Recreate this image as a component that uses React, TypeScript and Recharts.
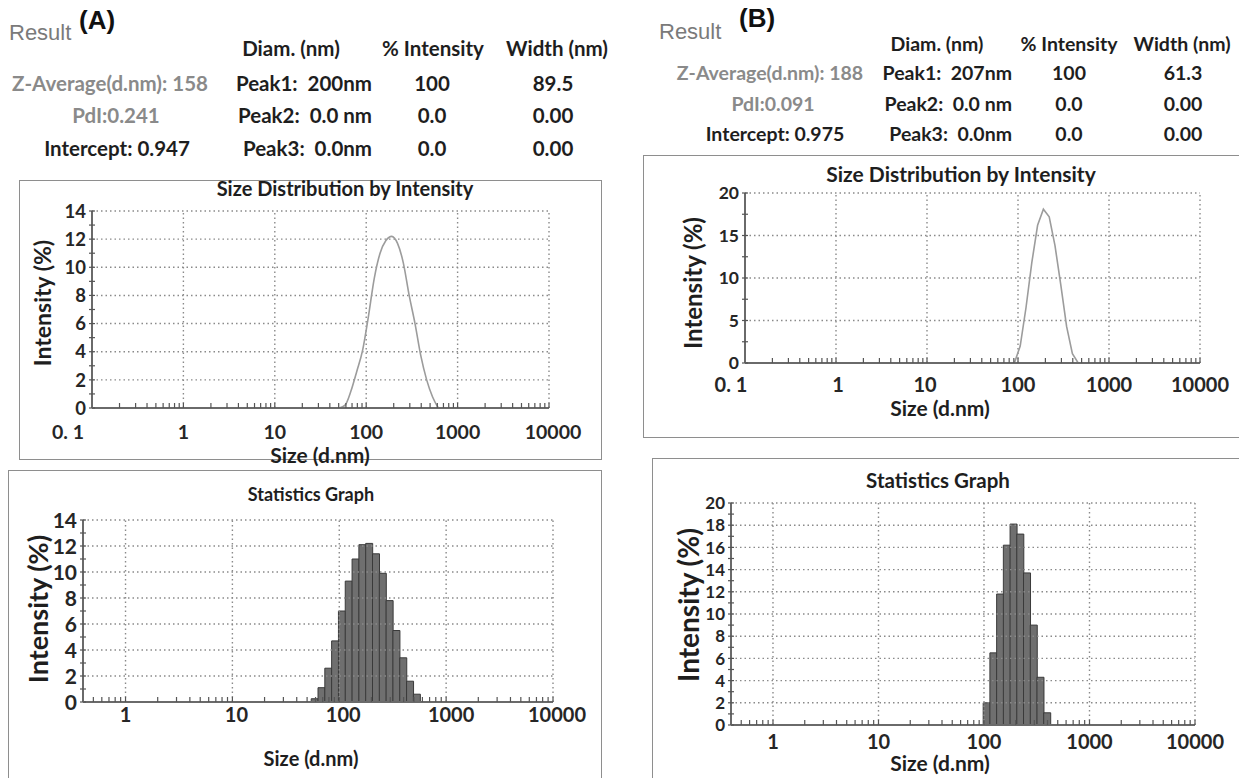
import React from 'react';
import { ComposedChart, Line, Bar, XAxis, YAxis, ReferenceLine } from 'recharts';

// ---------------- data ----------------
const curveSizesA = [50.75, 58.77, 68.06, 78.82, 91.28, 105.7, 122.4, 141.8, 164.2, 190.1, 220.2, 255.0, 295.3, 342.0, 396.1, 458.7, 531.2, 615.1];
const curveIntensityA = [0, 0.2, 1.2, 2.6, 4.1, 6.5, 9.2, 11.0, 11.9, 12.2, 11.7, 10.3, 8.0, 6.0, 3.7, 2.0, 0.8, 0];

const histSizesA = [58.77, 68.06, 78.82, 91.28, 105.7, 122.4, 141.8, 164.2, 190.1, 220.2, 255.0, 295.3, 342.0, 396.1, 458.7, 531.2];
const histIntensityA = [0.25, 1.1, 2.6, 4.7, 7.0, 9.3, 11.0, 12.1, 12.2, 11.4, 9.9, 7.8, 5.5, 3.4, 1.6, 0.6];

const curveSizesB = [91.28, 105.7, 122.4, 141.8, 164.2, 190.1, 220.2, 255.0, 295.3, 342.0, 396.1, 458.7];
const curveIntensityB = [0, 2.0, 6.5, 11.8, 16.2, 18.1, 17.2, 13.8, 9.2, 4.3, 1.1, 0];

const histSizesB = [105.7, 122.4, 141.8, 164.2, 190.1, 220.2, 255.0, 295.3, 342.0, 396.1];
const histIntensityB = [2.0, 6.5, 11.8, 16.2, 18.1, 17.2, 13.7, 9.0, 4.3, 1.1];

const xMajorTop = [0.1, 1, 10, 100, 1000, 10000];
const xLabelsTop = ['0. 1', '1', '10', '100', '1000', '10000'];
const xMajorStat = [1, 10, 100, 1000, 10000];
const xLabelsStat = ['1', '10', '100', '1000', '10000'];
const xMinorTicks = [
  0.2, 0.3, 0.4, 0.5, 0.6, 0.7, 0.8, 0.9,
  2, 3, 4, 5, 6, 7, 8, 9,
  20, 30, 40, 50, 60, 70, 80, 90,
  200, 300, 400, 500, 600, 700, 800, 900,
  2000, 3000, 4000, 5000, 6000, 7000, 8000, 9000,
];

const yMajorA = [0, 2, 4, 6, 8, 10, 12, 14];
const yMinorA = [1, 3, 5, 7, 9, 11, 13];
const yMajorBTop = [0, 5, 10, 15, 20];
const yMinorBTop = [2.5, 7.5, 12.5, 17.5];
const yMajorBStat = [0, 2, 4, 6, 8, 10, 12, 14, 16, 18, 20];
const yMinorBStat = [1, 3, 5, 7, 9, 11, 13, 15, 17, 19];

const tableHeaders = ['Diam. (nm)', '% Intensity', 'Width (nm)'];
const summaryA = ['Z-Average(d.nm): 158', 'PdI:0.241', 'Intercept: 0.947'];
const peakNamesA = ['Peak1:  200nm', 'Peak2:  0.0 nm', 'Peak3:  0.0nm'];
const peakIntensityA = ['100', '0.0', '0.0'];
const peakWidthA = ['89.5', '0.00', '0.00'];
const summaryB = ['Z-Average(d.nm): 188', 'PdI:0.091', 'Intercept: 0.975'];
const peakNamesB = ['Peak1:  207nm', 'Peak2:  0.0 nm', 'Peak3:  0.0nm'];
const peakIntensityB = ['100', '0.0', '0.0'];
const peakWidthB = ['61.3', '0.00', '0.00'];
const summaryColors = ['#8a8a8a', '#8a8a8a', '#1e1e1e'];

// ---------------- helpers ----------------
const FONT = 'Lato, "Open Sans", sans-serif';
const ARIAL = '"Liberation Sans", Arial, sans-serif';

type TxtProps = {
  x: number; y: number; children: React.ReactNode; size: number; color?: string;
  weight?: number; anchor?: 'start' | 'middle' | 'end'; family?: string; rotate?: number;
};
const Txt = ({ x, y, children, size, color = '#1e1e1e', weight = 700, anchor = 'middle', family = FONT, rotate = 0 }: TxtProps) => {
  const tx = anchor === 'start' ? '0' : anchor === 'end' ? '-100%' : '-50%';
  return (
    <div
      style={{
        position: 'absolute', left: x, top: y, transform: `translate(${tx}, -50%) rotate(${rotate}deg)`,
        fontFamily: family, fontSize: size, fontWeight: weight, color, whiteSpace: 'pre', lineHeight: 1,
      }}
    >
      {children}
    </div>
  );
};

type Rect = { x: number; y: number; w: number; h: number };
const YAXIS_W = 50;
const XAXIS_H = 40;

type PlotProps = {
  box: Rect; plot: Rect; xMin: number; xMajor: number[]; xLabels: string[]; xDx: number[];
  yMax: number; yMajor: number[]; yMinor: number[];
  sizes: number[]; values: number[]; kind: 'line' | 'bar'; lineType?: 'monotone' | 'linear';
  xFont: number; yFont: number; xDy: number;
};

const Plot = (p: PlotProps) => {
  const data = p.sizes.map((s, i) => ({ size: s, intensity: p.values[i] }));
  const xLabelIdx = new Map<number, number>(p.xMajor.map((v, i) => [v, i]));
  const xTicks = [...p.xMajor, ...xMinorTicks.filter((v) => v > p.xMin)].sort((a, b) => a - b);
  const yTicks = [...p.yMajor, ...p.yMinor].sort((a, b) => a - b);
  const yMajorSet = new Set(p.yMajor);
  const margin = {
    top: p.plot.y - p.box.y,
    left: p.plot.x - p.box.x - YAXIS_W,
    right: p.box.x + p.box.w - p.plot.x - p.plot.w,
    bottom: p.box.y + p.box.h - p.plot.y - p.plot.h - XAXIS_H,
  };
  const renderXTick = (props: any) => {
    const { x, y, payload } = props;
    const idx = xLabelIdx.get(payload.value);
    if (idx === undefined) return <g />;
    return (
      <text x={x + p.xDx[idx]} y={y + p.xDy} textAnchor="middle" fontFamily={FONT} fontWeight={700} fontSize={p.xFont} fill="#262626">
        {p.xLabels[idx]}
      </text>
    );
  };
  const renderYTick = (props: any) => {
    const { x, y, payload } = props;
    if (!yMajorSet.has(payload.value)) return <g />;
    return (
      <text x={x + 2} y={y + p.yFont * 0.36} textAnchor="end" fontFamily={FONT} fontWeight={700} fontSize={p.yFont} fill="#262626">
        {String(payload.value)}
      </text>
    );
  };
  return (
    <div style={{ position: 'absolute', left: p.box.x, top: p.box.y }}>
      <ComposedChart width={p.box.w} height={p.box.h} data={data} margin={margin} barCategoryGap={0} barGap={0}>
        <XAxis
          dataKey="size" type="number" scale="log" domain={[p.xMin, 10000]} ticks={xTicks} interval={0}
          allowDataOverflow height={XAXIS_H} tick={renderXTick} tickSize={5}
          tickLine={{ stroke: '#555', strokeWidth: 1.2, transform: 'translate(0,-5)' }}
          axisLine={{ stroke: '#6a6a6a', strokeWidth: 2 }}
        />
        <YAxis
          type="number" domain={[0, p.yMax]} ticks={yTicks} interval={0} width={YAXIS_W} allowDataOverflow
          tick={renderYTick} tickSize={6}
          tickLine={{ stroke: '#555', strokeWidth: 1.2, transform: 'translate(3,0)' }}
          axisLine={{ stroke: '#6a6a6a', strokeWidth: 2 }}
        />
        {p.xMajor.filter((v) => v > p.xMin).map((v) => (
          <ReferenceLine key={'gx' + v} x={v} stroke="#8a8a8a" strokeWidth={1.4} strokeDasharray="1.5 3" />
        ))}
        {p.yMajor.filter((v) => v > 0).map((v) => (
          <ReferenceLine key={'gy' + v} y={v} stroke="#8a8a8a" strokeWidth={1.4} strokeDasharray="1.5 3" />
        ))}
        {p.kind === 'bar' ? (
          <Bar dataKey="intensity" fill="#6f6f6f" stroke="#3a3a3a" strokeWidth={1} isAnimationActive={false} />
        ) : (
          <Line dataKey="intensity" type={p.lineType || 'monotone'} stroke="#9c9c9c" strokeWidth={1.6} dot={false} isAnimationActive={false} />
        )}
      </ComposedChart>
    </div>
  );
};

const Box = ({ r }: { r: Rect }) => (
  <div style={{ position: 'absolute', left: r.x, top: r.y, width: r.w, height: r.h, border: '1.5px solid #8e8e8e', boxSizing: 'border-box' }} />
);

// ---------------- layout ----------------
const boxATop = { x: 19, y: 180, w: 583, h: 280 };
const plotATop = { x: 92, y: 211, w: 457, h: 197 };
const boxAStat = { x: 8, y: 470, w: 594, h: 340 };
const plotAStat = { x: 83, y: 520, w: 470, h: 182 };
const boxBTop = { x: 643, y: 155, w: 620, h: 283 };
const plotBTop = { x: 745, y: 193, w: 455, h: 170 };
const boxBStat = { x: 652, y: 458, w: 620, h: 340 };
const plotBStat = { x: 731, y: 503, w: 464, h: 222 };

const rowYA = [83, 115, 148];
const rowYB = [73, 104, 134];

export default function App() {
  return (
    <div style={{ position: 'absolute', left: 0, top: 0, width: 1239, height: 778, overflow: 'hidden', background: '#fff' }}>
      {/* ---------- Panel A header ---------- */}
      <Txt x={9} y={33} size={22} color="#7a7a7a" weight={400} anchor="start" family={ARIAL}>Result</Txt>
      <Txt x={79} y={20} size={26} color="#111" weight={700} anchor="start" family={ARIAL}>(A)</Txt>
      {tableHeaders.map((h, i) => (
        <Txt key={'ha' + i} x={[291, 433, 557][i]} y={48} size={20.5}>{h}</Txt>
      ))}
      {summaryA.map((s, i) => (
        <Txt key={'sa' + i} x={[110, 116, 117][i]} y={rowYA[i]} size={20.5} color={summaryColors[i]}>{s}</Txt>
      ))}
      {peakNamesA.map((s, i) => (
        <Txt key={'pa' + i} x={372} y={rowYA[i]} size={20.5} anchor="end">{s}</Txt>
      ))}
      {peakIntensityA.map((s, i) => (
        <Txt key={'ia' + i} x={432} y={rowYA[i]} size={20.5}>{s}</Txt>
      ))}
      {peakWidthA.map((s, i) => (
        <Txt key={'wa' + i} x={553} y={rowYA[i]} size={20.5}>{s}</Txt>
      ))}

      {/* ---------- Panel B header ---------- */}
      <Txt x={659} y={32} size={22} color="#7a7a7a" weight={400} anchor="start" family={ARIAL}>Result</Txt>
      <Txt x={739} y={18} size={26} color="#111" weight={700} anchor="start" family={ARIAL}>(B)</Txt>
      {tableHeaders.map((h, i) => (
        <Txt key={'hb' + i} x={[937, 1069, 1182][i]} y={44} size={19.5}>{h}</Txt>
      ))}
      {summaryB.map((s, i) => (
        <Txt key={'sb' + i} x={[770, 773, 775][i]} y={rowYB[i]} size={19.5} color={summaryColors[i]}>{s}</Txt>
      ))}
      {peakNamesB.map((s, i) => (
        <Txt key={'pb' + i} x={1012} y={rowYB[i]} size={19.5} anchor="end">{s}</Txt>
      ))}
      {peakIntensityB.map((s, i) => (
        <Txt key={'ib' + i} x={1069} y={rowYB[i]} size={19.5}>{s}</Txt>
      ))}
      {peakWidthB.map((s, i) => (
        <Txt key={'wb' + i} x={1183} y={rowYB[i]} size={19.5}>{s}</Txt>
      ))}

      {/* ---------- A: size distribution ---------- */}
      <Box r={boxATop} />
      <Plot box={boxATop} plot={plotATop} xMin={0.1} xMajor={xMajorTop} xLabels={xLabelsTop} xDx={[-24, 0, 0, 0, 0, 4]}
        yMax={14} yMajor={yMajorA} yMinor={yMinorA} sizes={curveSizesA} values={curveIntensityA}
        kind="line" lineType="monotone" xFont={19.5} yFont={18.5} xDy={24} />
      <Txt x={345} y={188} size={20}>Size Distribution by Intensity</Txt>
      <Txt x={42} y={303} size={23} rotate={-90}>Intensity (%)</Txt>
      <Txt x={320} y={454} size={21}>Size (d.nm)</Txt>

      {/* ---------- A: statistics ---------- */}
      <Box r={boxAStat} />
      <Plot box={boxAStat} plot={plotAStat} xMin={0.4} xMajor={xMajorStat} xLabels={xLabelsStat} xDx={[0, 4, 4, 5, 4]}
        yMax={14} yMajor={yMajorA} yMinor={yMinorA} sizes={histSizesA} values={histIntensityA}
        kind="bar" xFont={20} yFont={21} xDy={13} />
      <Txt x={311} y={494} size={18}>Statistics Graph</Txt>
      <Txt x={37} y={609} size={27} rotate={-90}>Intensity (%)</Txt>
      <Txt x={311} y={758} size={20}>Size (d.nm)</Txt>

      {/* ---------- B: size distribution ---------- */}
      <Box r={boxBTop} />
      <Plot box={boxBTop} plot={plotBTop} xMin={0.1} xMajor={xMajorTop} xLabels={xLabelsTop} xDx={[-14, 2, -2, 0, 0, 0]}
        yMax={20} yMajor={yMajorBTop} yMinor={yMinorBTop} sizes={curveSizesB} values={curveIntensityB}
        kind="line" lineType="linear" xFont={20} yFont={17.5} xDy={22} />
      <Txt x={961} y={173} size={21}>Size Distribution by Intensity</Txt>
      <Txt x={693} y={283} size={24} rotate={-90}>Intensity (%)</Txt>
      <Txt x={940} y={407} size={21}>Size (d.nm)</Txt>

      {/* ---------- B: statistics ---------- */}
      <Box r={boxBStat} />
      <Plot box={boxBStat} plot={plotBStat} xMin={0.4} xMajor={xMajorStat} xLabels={xLabelsStat} xDx={[0, 0, 0, 0, 0]}
        yMax={20} yMajor={yMajorBStat} yMinor={yMinorBStat} sizes={histSizesB} values={histIntensityB}
        kind="bar" xFont={20} yFont={17} xDy={17} />
      <Txt x={938} y={480} size={20.5}>Statistics Graph</Txt>
      <Txt x={688} y={605} size={28} rotate={-90}>Intensity (%)</Txt>
      <Txt x={940} y={762} size={21}>Size (d.nm)</Txt>
    </div>
  );
}
